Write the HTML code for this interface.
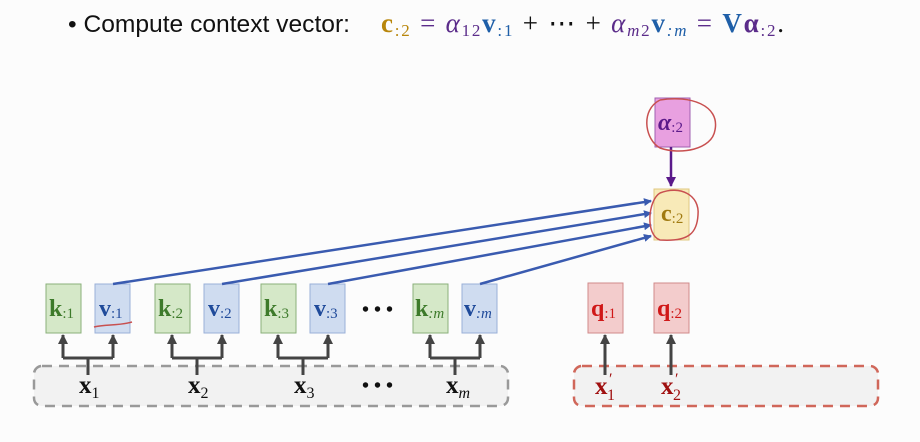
<!DOCTYPE html>
<html><head><style>
body{margin:0;width:920px;height:442px;background:#fcfcfc;overflow:hidden;font-family:"Liberation Sans",sans-serif}
</style></head><body>
<svg width="920" height="442" xmlns="http://www.w3.org/2000/svg" style="position:absolute;left:0;top:0">
<defs>
<marker id="ab" markerWidth="8" markerHeight="8" refX="7" refY="4" orient="auto" markerUnits="userSpaceOnUse"><path d="M0,0 L8,4 L0,8z" fill="#3a5bb0"/></marker>
<marker id="ag" markerWidth="10" markerHeight="10" refX="9" refY="5" orient="auto" markerUnits="userSpaceOnUse"><path d="M0,0 L10,5 L0,10z" fill="#444"/></marker>
<marker id="ap" markerWidth="10" markerHeight="10" refX="9" refY="5" orient="auto" markerUnits="userSpaceOnUse"><path d="M0,0 L10,5 L0,10z" fill="#5a1a8a"/></marker>
</defs>
<text x="68" y="32" font-size="24" fill="#111" font-family="Liberation Sans" textLength="282" lengthAdjust="spacingAndGlyphs">• Compute context vector:</text>
<text x="381" y="32" font-size="27" font-family="Liberation Serif" textLength="403" lengthAdjust="spacing"><tspan fill="#b8860b" font-weight="bold">c</tspan><tspan fill="#b8860b" font-size="17" dy="4">:2</tspan><tspan dy="-4" fill="#5b2c8a"> = </tspan><tspan fill="#5b2c8a" font-style="italic">α</tspan><tspan fill="#5b2c8a" font-size="17" dy="4">12</tspan><tspan dy="-4" fill="#1f5fa8" font-weight="bold">v</tspan><tspan fill="#1f5fa8" font-size="17" dy="4">:1</tspan><tspan dy="-4" fill="#111"> + ⋯ + </tspan><tspan fill="#5b2c8a" font-style="italic">α</tspan><tspan fill="#5b2c8a" font-size="17" dy="4" font-style="italic">m</tspan><tspan fill="#5b2c8a" font-size="17">2</tspan><tspan dy="-4" fill="#1f5fa8" font-weight="bold">v</tspan><tspan fill="#1f5fa8" font-size="17" dy="4" font-style="italic">:m</tspan><tspan dy="-4" fill="#5b2c8a"> = </tspan><tspan fill="#1f5fa8" font-weight="bold">V</tspan><tspan fill="#5b2c8a" font-weight="bold">α</tspan><tspan fill="#5b2c8a" font-size="17" dy="4">:2</tspan><tspan dy="-4" fill="#111">.</tspan></text>

<rect x="34" y="366" width="474" height="40" rx="8" fill="#f2f2f2" stroke="#999" stroke-width="2.5" stroke-dasharray="10,7"/>
<rect x="574" y="366" width="304" height="40" rx="8" fill="#f2f2f2" stroke="#d0675a" stroke-width="2.5" stroke-dasharray="10,7"/>

<g stroke="#444" stroke-width="3" fill="none">
<path d="M88,375 V358 M63,358 H113" /><path d="M63,358 V335" marker-end="url(#ag)"/><path d="M113,358 V335" marker-end="url(#ag)"/>
<path d="M197,375 V358 M172,358 H222" /><path d="M172,358 V335" marker-end="url(#ag)"/><path d="M222,358 V335" marker-end="url(#ag)"/>
<path d="M303,375 V358 M278,358 H328" /><path d="M278,358 V335" marker-end="url(#ag)"/><path d="M328,358 V335" marker-end="url(#ag)"/>
<path d="M455,375 V358 M430,358 H480" /><path d="M430,358 V335" marker-end="url(#ag)"/><path d="M480,358 V335" marker-end="url(#ag)"/>
<path d="M605,375 V335" marker-end="url(#ag)"/><path d="M671,375 V335" marker-end="url(#ag)"/>
</g>

<g font-family="Liberation Serif" font-weight="bold" font-size="25" fill="#111">
<text x="79" y="393">x<tspan font-size="16" font-weight="normal" dy="5">1</tspan></text>
<text x="188" y="393">x<tspan font-size="16" font-weight="normal" dy="5">2</tspan></text>
<text x="294" y="393">x<tspan font-size="16" font-weight="normal" dy="5">3</tspan></text>
<text x="446" y="393">x<tspan font-size="16" font-weight="normal" font-style="italic" dy="5">m</tspan></text>
<text x="362" y="392" font-size="20">• • •</text>
<text x="362" y="316" font-size="20">• • •</text>
</g>
<g font-family="Liberation Serif" font-weight="bold" font-size="25" fill="#a01010">
<text x="595" y="394">x</text><text x="609" y="384" font-size="16" font-weight="normal">′</text><text x="607" y="400" font-size="16" font-weight="normal">1</text>
<text x="661" y="394">x</text><text x="675" y="384" font-size="16" font-weight="normal">′</text><text x="673" y="400" font-size="16" font-weight="normal">2</text>
</g>

<g stroke-width="1">
<rect x="46" y="284" width="35" height="49" fill="#d5e8c8" stroke="#8ab07a"/>
<rect x="155" y="284" width="35" height="49" fill="#d5e8c8" stroke="#8ab07a"/>
<rect x="261" y="284" width="35" height="49" fill="#d5e8c8" stroke="#8ab07a"/>
<rect x="413" y="284" width="35" height="49" fill="#d5e8c8" stroke="#8ab07a"/>
<rect x="95" y="284" width="35" height="49" fill="#cfdcf0" stroke="#9ab0d8"/>
<rect x="204" y="284" width="35" height="49" fill="#cfdcf0" stroke="#9ab0d8"/>
<rect x="310" y="284" width="35" height="49" fill="#cfdcf0" stroke="#9ab0d8"/>
<rect x="462" y="284" width="35" height="49" fill="#cfdcf0" stroke="#9ab0d8"/>
<rect x="588" y="283" width="35" height="50" fill="#f3cccc" stroke="#d08a8a"/>
<rect x="654" y="283" width="35" height="50" fill="#f3cccc" stroke="#d08a8a"/>
<rect x="655" y="98" width="35" height="49" fill="#e8a0e0" stroke="#a060b0"/>
<rect x="654" y="189" width="35" height="51" fill="#f8eab8" stroke="#e0c880"/>
</g>

<g font-family="Liberation Serif" font-weight="bold" font-size="24">
<g fill="#3d7a2a"><text x="49" y="316">k<tspan font-size="15" font-weight="normal" dy="2">:1</tspan></text>
<text x="158" y="316">k<tspan font-size="15" font-weight="normal" dy="2">:2</tspan></text>
<text x="264" y="316">k<tspan font-size="15" font-weight="normal" dy="2">:3</tspan></text>
<text x="415" y="316">k<tspan font-size="15" font-weight="normal" font-style="italic" dy="2">:m</tspan></text></g>
<g fill="#1f4a9a"><text x="99" y="316">v<tspan font-size="15" font-weight="normal" dy="2">:1</tspan></text>
<text x="208" y="316">v<tspan font-size="15" font-weight="normal" dy="2">:2</tspan></text>
<text x="314" y="316">v<tspan font-size="15" font-weight="normal" dy="2">:3</tspan></text>
<text x="464" y="316">v<tspan font-size="15" font-weight="normal" font-style="italic" dy="2">:m</tspan></text></g>
<g fill="#d01818"><text x="591" y="316">q<tspan font-size="15" font-weight="normal" dy="2">:1</tspan></text>
<text x="657" y="316">q<tspan font-size="15" font-weight="normal" dy="2">:2</tspan></text></g>
<text x="658" y="130" fill="#5b1a8a" font-style="italic">α<tspan font-size="15" font-weight="normal" font-style="normal" dy="2">:2</tspan></text>
<text x="661" y="221" fill="#a07a10">c<tspan font-size="15" font-weight="normal" dy="2">:2</tspan></text>
</g>

<path d="M671,147 V186" stroke="#5a1a8a" stroke-width="2.5" marker-end="url(#ap)"/>
<g stroke="#3a5bb0" stroke-width="2.5" fill="none">
<path d="M113,284 L651,201" marker-end="url(#ab)"/>
<path d="M222,284 L651,213" marker-end="url(#ab)"/>
<path d="M328,284 L651,225" marker-end="url(#ab)"/>
<path d="M480,284 L651,236" marker-end="url(#ab)"/>
</g>
<g stroke="#c85050" stroke-width="1.5" fill="none">
<path d="M660,100 C690,95 720,105 715,130 C712,150 680,155 660,148 C645,140 640,110 660,100"/>
<path d="M660,193 C680,185 700,195 698,215 C697,232 690,242 660,240 C645,235 648,200 660,193"/>
<path d="M94,327 C105,324 118,326 132,322"/>
</g>
</svg>
</body></html>
